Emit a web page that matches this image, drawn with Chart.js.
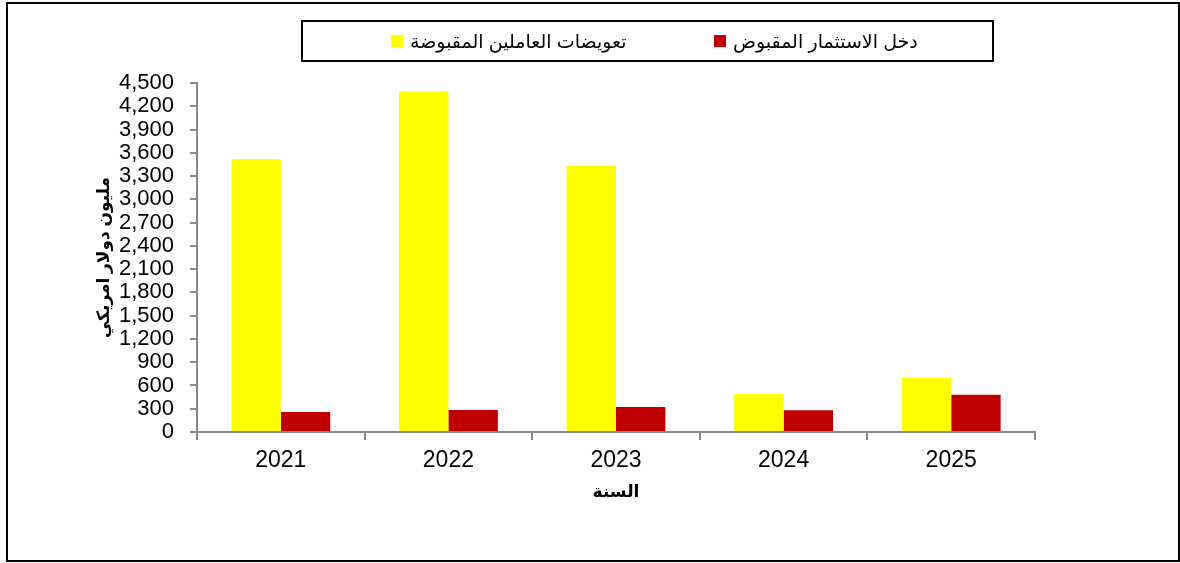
<!DOCTYPE html>
<html>
<head>
<meta charset="utf-8">
<script src="https://cdn.jsdelivr.net/npm/chart.js@4/dist/chart.umd.min.js"></script>
<style>
    body { margin: 0; background: #fff; }
    .wrap { position: relative; width: 1180px; height: 563px; }
    .frame { position: absolute; left: 6px; top: 2px; width: 1170px; height: 556px; border: 2px solid #000; pointer-events: none; }
    .legend { position: absolute; left: 301px; top: 20px; width: 689px; height: 38px; border: 2px solid #000; font-family: "Liberation Sans", "DejaVu Sans", sans-serif; font-size: 19px; }
    .legend .item { position: absolute; top: 0; height: 38px; display: flex; align-items: center; }
    .legend .box { width: 12px; height: 12px; margin-right: 7px; }
    canvas { position: absolute; left: 0; top: 0; }
</style>
</head>
<body>
<div class="wrap">
    <canvas id="chart" width="1180" height="563"></canvas>
    <div class="legend" id="legend"></div>
    <div class="frame"></div>
</div>
<script>
var years = ["2021", "2022", "2023", "2024", "2025"];
var compensation = [3520, 4393, 3433, 489, 699];
var investment = [257, 283, 321, 279, 480];
var yTicks = [0, 300, 600, 900, 1200, 1500, 1800, 2100, 2400, 2700, 3000, 3300, 3600, 3900, 4200, 4500];

var FONT = "'Liberation Sans', 'DejaVu Sans', sans-serif";
var AXIS = "#8a8a8a";

var chart = new Chart("chart", {
    type: "bar",
    data: {
        labels: years,
        datasets: [{
            label: "تعويضات العاملين المقبوضة",
            data: compensation,
            backgroundColor: "#ffff00",
            barPercentage: 1.0,
            categoryPercentage: 0.59
        },
        {
            label: "دخل الاستثمار المقبوض",
            data: investment,
            backgroundColor: "#c00000",
            barPercentage: 1.0,
            categoryPercentage: 0.59
        }]
    },
    options: {
        responsive: false,
        animation: false,
        layout: {
            padding: { left: 90, right: 145, top: 83, bottom: 51 }
        },
        plugins: {
            legend: { display: false },
            tooltip: { enabled: false }
        },
        scales: {
            x: {
                grid: { offset: true, drawOnChartArea: false, drawTicks: true, tickLength: 8, color: AXIS, lineWidth: 2 },
                border: { color: AXIS, width: 2 },
                ticks: { color: "#000", padding: 7, font: { family: FONT, size: 23 } },
                title: {
                    display: true,
                    text: "السنة",
                    color: "#000",
                    padding: { top: 0, bottom: 9 },
                    font: { family: FONT, size: 17, weight: "bold" }
                },
                afterFit: function (axis) { axis.height = 80; }
            },
            y: {
                min: 0,
                max: 4500,
                afterBuildTicks: function (axis) {
                    axis.ticks = yTicks.map(function (v) { return { value: v }; });
                },
                grid: { drawOnChartArea: false, drawTicks: true, tickLength: 7, color: AXIS, lineWidth: 2 },
                border: { color: AXIS, width: 2 },
                ticks: {
                    autoSkip: false,
                    color: "#000",
                    padding: 16,
                    font: { family: FONT, size: 22 },
                    callback: function (v) { return v.toLocaleString("en-US"); }
                },
                title: {
                    display: true,
                    text: "مليون دولار امريكي",
                    color: "#000",
                    padding: { top: 4, bottom: 0 },
                    font: { family: FONT, size: 17, weight: "bold" }
                },
                afterFit: function (axis) { axis.width = 107; }
            }
        }
    }
});

// legend box built from the datasets
var legendPos = [391, 714];
var legendOrder = [0, 1];
legendOrder.forEach(function (i, k) {
    var ds = chart.data.datasets[i];
    var item = document.createElement("div");
    item.className = "item";
    item.style.left = (legendPos[k] - 303) + "px";
    item.innerHTML = `<div class="box" style="background:${ds.backgroundColor}"></div><span dir="rtl">${ds.label}</span>`;
    document.getElementById("legend").appendChild(item);
});
</script>
</body>
</html>
